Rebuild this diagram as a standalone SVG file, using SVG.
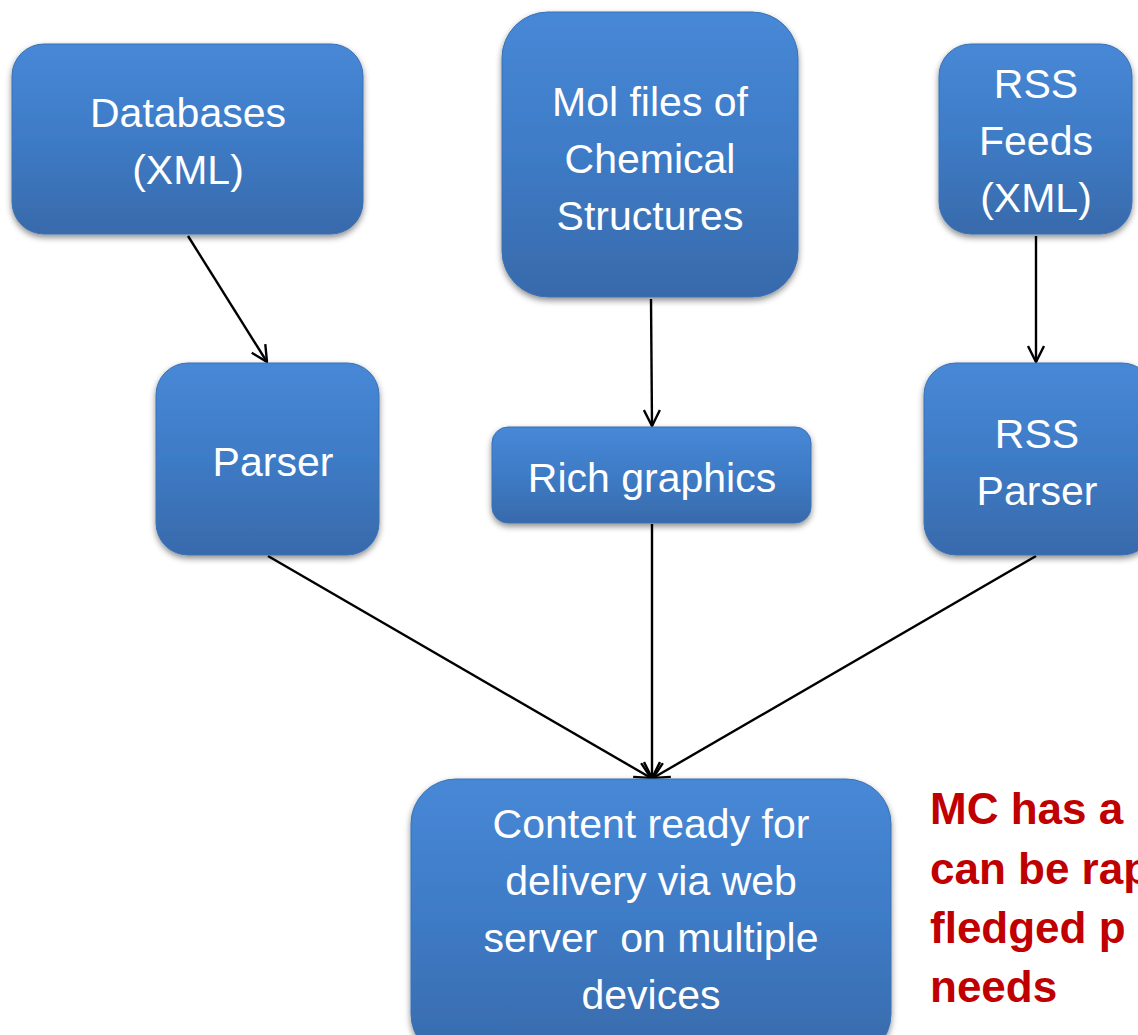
<svg xmlns="http://www.w3.org/2000/svg" width="1138" height="1035" viewBox="0 0 1138 1035">
<defs>
<linearGradient id="g" x1="0" y1="0" x2="0" y2="1">
<stop offset="0" stop-color="#4788D6"/>
<stop offset="0.5" stop-color="#3E7BC6"/>
<stop offset="1" stop-color="#386AAB"/>
</linearGradient>
<filter id="sh" x="-10%" y="-10%" width="120%" height="130%">
<feDropShadow dx="0" dy="3" stdDeviation="3" flood-color="#000" flood-opacity="0.45"/>
</filter>
<marker id="ar" markerUnits="userSpaceOnUse" viewBox="0 0 18 18" markerWidth="18" markerHeight="18" refX="17" refY="9" orient="auto">
<path d="M1,1 L17,9 L1,17" fill="none" stroke="#000" stroke-width="2.4"/>
</marker>
</defs>
<style>
.box{fill:url(#g);stroke:#3A70B5;stroke-width:1;filter:url(#sh)}
.t{font-family:"Liberation Sans",Arial,sans-serif;font-size:41px;fill:#FFFFFF;text-anchor:middle}
.c{stroke:#000;stroke-width:2.4;fill:none;marker-end:url(#ar)}
.red{font-family:"Liberation Sans",Arial,sans-serif;font-size:44px;font-weight:bold;fill:#C00000}
</style>
<rect width="1138" height="1035" fill="#FFFFFF"/>
<g id="connectors">
<line class="c" x1="188" y1="236" x2="267" y2="362"/>
<line class="c" x1="651" y1="299" x2="652" y2="426"/>
<line class="c" x1="1036" y1="236" x2="1036" y2="362"/>
<line class="c" x1="268" y1="556" x2="651" y2="778"/>
<line class="c" x1="652" y1="524" x2="652" y2="778"/>
<line class="c" x1="1036" y1="556" x2="653" y2="778"/>
</g>
<g id="databases">
<rect class="box" x="12" y="44" width="351" height="190" rx="32"/>
<text class="t" x="188" y="127">Databases</text>
<text class="t" x="188" y="184">(XML)</text>
</g>
<g id="molfiles">
<rect class="box" x="502" y="12" width="296" height="285" rx="46"/>
<text class="t" x="650" y="116">Mol files of</text>
<text class="t" x="650" y="173">Chemical</text>
<text class="t" x="650" y="230">Structures</text>
</g>
<g id="rssfeeds">
<rect class="box" x="939" y="44" width="193" height="190" rx="32"/>
<text class="t" x="1036" y="98">RSS</text>
<text class="t" x="1036" y="155">Feeds</text>
<text class="t" x="1036" y="212">(XML)</text>
</g>
<g id="parser">
<rect class="box" x="156" y="363" width="223" height="192" rx="32"/>
<text class="t" x="273" y="476">Parser</text>
</g>
<g id="richgraphics">
<rect class="box" x="492" y="427" width="319" height="96" rx="16"/>
<text class="t" x="652" y="492">Rich graphics</text>
</g>
<g id="rssparser">
<rect class="box" x="924" y="363" width="230" height="192" rx="32"/>
<text class="t" x="1037" y="448">RSS</text>
<text class="t" x="1037" y="505">Parser</text>
</g>
<g id="content">
<rect class="box" x="411" y="779" width="480" height="280" rx="45"/>
<text class="t" x="651" y="838">Content ready for</text>
<text class="t" x="651" y="895">delivery via web</text>
<text class="t" x="651" y="952" xml:space="preserve">server  on multiple</text>
<text class="t" x="651" y="1009">devices</text>
</g>
<g id="note">
<text class="red" x="930" y="824">MC has a</text>
<text class="red" x="930" y="884">can be rap</text>
<text class="red" x="930" y="943">fledged p</text>
<text class="red" x="930" y="1002">needs</text>
</g>
</svg>
